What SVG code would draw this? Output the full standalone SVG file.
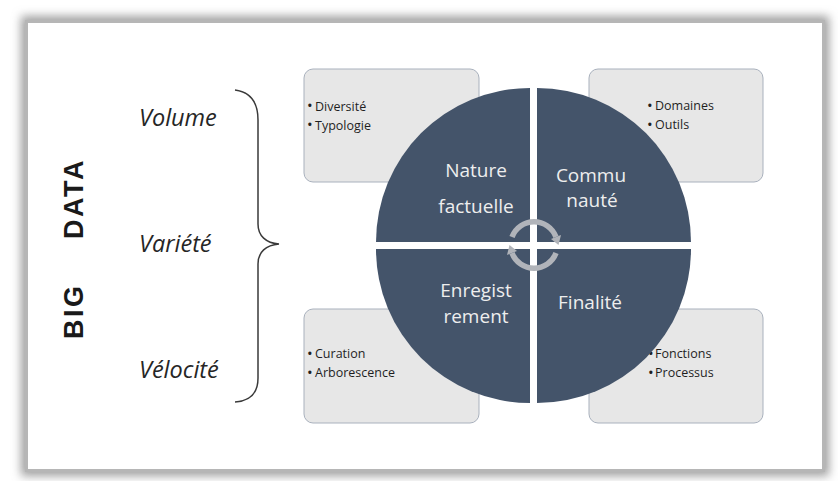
<svg xmlns="http://www.w3.org/2000/svg" width="838" height="481" viewBox="0 0 838 481">
  <defs>
    <filter id="shadow" x="-5%" y="-5%" width="110%" height="110%">
      <feGaussianBlur stdDeviation="5"/>
    </filter>
  </defs>
  <style>
    .box { fill: #e7e7e7; stroke: #a9b1bd; stroke-width: 1; }
    .quad { fill: #44546a; }
    .qtxt { font-family: "Open Sans", "Noto Sans", sans-serif; font-size: 19px; fill: #eeeeee; text-anchor: middle; }
    .btxt { font-family: "Open Sans", "Noto Sans", sans-serif; font-size: 12.5px; fill: #1f1f1f; }
    .dot { font-family: "Open Sans", "Noto Sans", sans-serif; font-size: 15px; fill: #1f1f1f; }
    .vlbl { font-family: "Open Sans", "Noto Sans", sans-serif; font-size: 23.5px; font-style: italic; fill: #262626; }
    .big { font-family: "Liberation Sans", Arial, sans-serif; font-size: 27px; font-weight: bold; fill: #1a1a1a; letter-spacing: 2.5px; }
    .arc { fill: none; stroke: #b1b4ba; stroke-width: 5.5; }
    .head { fill: #b1b4ba; }
    .brace { fill: none; stroke: #3a3a3a; stroke-width: 1.5; }
  </style>

  <rect x="0" y="0" width="838" height="481" fill="#ffffff"/>
  <rect x="21" y="16" width="808" height="460" fill="#a0a0a0" filter="url(#shadow)"/>
  <rect x="25" y="20" width="800" height="452" fill="#b6b6b6"/>
  <rect x="28" y="23" width="794" height="446" fill="#ffffff"/>

  <g id="big-data">
    <text class="big" x="83" y="339" transform="rotate(-90 83 339)">BIG</text>
    <text class="big" x="83" y="239" transform="rotate(-90 83 239)">DATA</text>
  </g>

  <g id="labels">
    <text class="vlbl" x="139" y="126">Volume</text>
    <text class="vlbl" x="139" y="252">Variété</text>
    <text class="vlbl" x="139" y="378">Vélocité</text>
  </g>

  <g id="connectors">
    <path class="brace" d="M235,90 C250,92 258,102 258,120 L258,224 C258,236 266,243 279,244 C266,245 258,252 258,264 L258,378 C258,394 250,401 235,402"/>
  </g>

  <g id="box-tl">
    <rect class="box" x="304" y="69" width="175" height="113" rx="9"/>
    <text class="dot" x="307" y="111">•</text>
    <text class="btxt" x="315" y="110.5">Diversité</text>
    <text class="dot" x="307" y="130">•</text>
    <text class="btxt" x="315" y="129.5">Typologie</text>
  </g>
  <g id="box-tr">
    <rect class="box" x="589" y="69" width="174" height="113" rx="9"/>
    <text class="dot" x="647" y="110.5">•</text>
    <text class="btxt" x="655" y="110">Domaines</text>
    <text class="dot" x="647" y="129.5">•</text>
    <text class="btxt" x="655" y="129">Outils</text>
  </g>
  <g id="box-bl">
    <rect class="box" x="304" y="309" width="175" height="114" rx="9"/>
    <text class="dot" x="307" y="358.5">•</text>
    <text class="btxt" x="315" y="358">Curation</text>
    <text class="dot" x="307" y="377.5">•</text>
    <text class="btxt" x="315" y="377">Arborescence</text>
  </g>
  <g id="box-br">
    <rect class="box" x="589" y="309" width="174" height="114" rx="9"/>
    <text class="dot" x="648" y="358.5">•</text>
    <text class="btxt" x="655" y="358">Fonctions</text>
    <text class="dot" x="648" y="377.5">•</text>
    <text class="btxt" x="655" y="377">Processus</text>
  </g>

  <g id="quad-nature">
    <path class="quad" d="M530,242 L376,242 A154,154 0 0 1 530,88 Z"/>
    <text class="qtxt" x="476" y="177">Nature</text>
    <text class="qtxt" x="476" y="213">factuelle</text>
  </g>
  <g id="quad-communaute">
    <path class="quad" d="M537,242 L537,88 A154,154 0 0 1 691,242 Z"/>
    <text class="qtxt" x="591" y="182">Commu</text>
    <text class="qtxt" x="592" y="207">nauté</text>
  </g>
  <g id="quad-finalite">
    <path class="quad" d="M537,249 L691,249 A154,154 0 0 1 537,403 Z"/>
    <text class="qtxt" x="590" y="309">Finalité</text>
  </g>
  <g id="quad-enregistrement">
    <path class="quad" d="M530,249 L530,403 A154,154 0 0 1 376,249 Z"/>
    <text class="qtxt" x="476" y="297">Enregist</text>
    <text class="qtxt" x="476" y="323">rement</text>
  </g>

  <g id="cycle-arrows">
    <path class="arc" d="M512,237 A23.5,23.5 0 0 1 556,237"/>
    <polygon class="head" points="561,235 551,239 558.5,245"/>
    <path class="arc" d="M556,253 A23.5,23.5 0 0 1 512,253"/>
    <polygon class="head" points="507,255 517,251 509.5,245"/>
  </g>
</svg>
